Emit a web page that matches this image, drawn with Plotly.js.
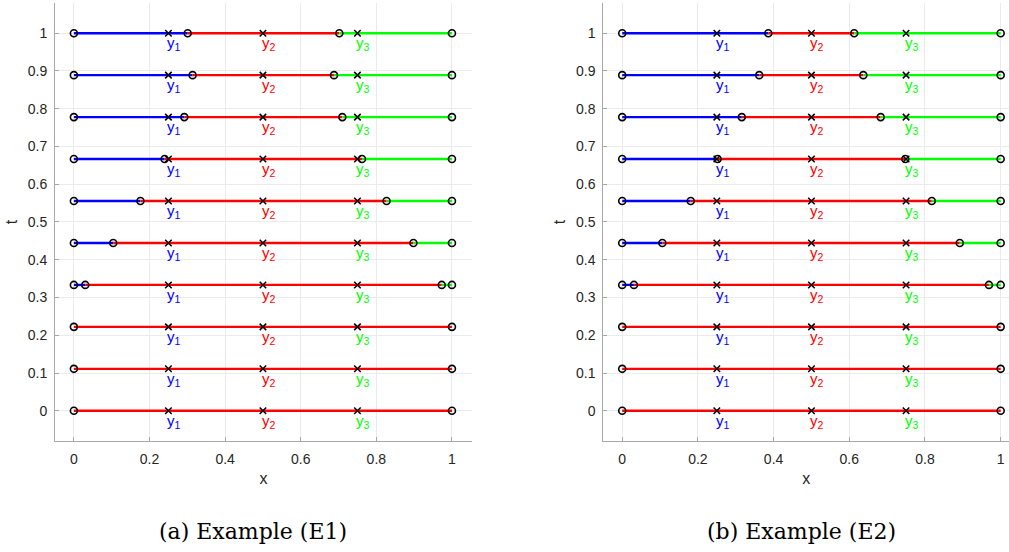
<!DOCTYPE html>
<html>
<head>
<meta charset="utf-8">
<script src="https://cdn.plot.ly/plotly-3.0.1.min.js"></script>
<style>html,body{margin:0;padding:0;background:#fff;overflow:hidden;}#chart{width:1009px;height:552px;}</style>
</head>
<body>
<div id="chart"></div>
<script>
// ---- data ----
const tValues = [0, 1/9, 2/9, 3/9, 4/9, 5/9, 6/9, 7/9, 8/9, 1];
const nodes = [0.25, 0.5, 0.75];
const nodeLabels = ['y<sub>1</sub>', 'y<sub>2</sub>', 'y<sub>3</sub>'];
// breakpoints (blue|red) and (red|green) per row; null = region absent
const e1Left  = [null, null, null, 0.030, 0.104, 0.176, 0.240, 0.292, 0.314, 0.301];
const e1Right = [null, null, null, 0.973, 0.898, 0.827, 0.762, 0.710, 0.688, 0.702];
const e2Left  = [null, null, null, 0.031, 0.106, 0.181, 0.252, 0.316, 0.362, 0.386];
const e2Right = [null, null, null, 0.969, 0.892, 0.818, 0.748, 0.683, 0.637, 0.613];
const xTicks = [0, 0.2, 0.4, 0.6, 0.8, 1];
const yTicks = [0, 0.1, 0.2, 0.3, 0.4, 0.5, 0.6, 0.7, 0.8, 0.9, 1];
const panelTitles = ['(a) Example (E1)', '(b) Example (E2)'];

const BLUE = '#0000ff', RED = '#ff0000', GREEN = '#00ff00';
const colors = [BLUE, RED, GREEN];
const SANS = 'Liberation Sans, Arial, sans-serif';

function panelTraces(leftB, rightB, xa, ya) {
  const bx = [], by = [], rx = [], ry = [], gx = [], gy = [];
  const cx = [], cy = [], kx = [], ky = [];
  tValues.forEach((t, i) => {
    const a = leftB[i], b = rightB[i];
    if (a !== null) { bx.push(0, a, null); by.push(t, t, null); }
    rx.push(a !== null ? a : 0, b !== null ? b : 1, null); ry.push(t, t, null);
    if (b !== null) { gx.push(b, 1, null); gy.push(t, t, null); }
    cx.push(0); cy.push(t);
    if (a !== null) { cx.push(a); cy.push(t); }
    if (b !== null) { cx.push(b); cy.push(t); }
    cx.push(1); cy.push(t);
    nodes.forEach(n => { kx.push(n); ky.push(t); });
  });
  const base = {xaxis: xa, yaxis: ya, hoverinfo: 'skip', showlegend: false, cliponaxis: false};
  const tr = [];
  tr.push(Object.assign({type: 'scatter', mode: 'lines', x: bx, y: by, line: {color: BLUE, width: 2.4}}, base));
  tr.push(Object.assign({type: 'scatter', mode: 'lines', x: rx, y: ry, line: {color: RED, width: 2.4}}, base));
  tr.push(Object.assign({type: 'scatter', mode: 'lines', x: gx, y: gy, line: {color: GREEN, width: 2.4}}, base));
  tr.push(Object.assign({type: 'scatter', mode: 'markers', x: kx, y: ky,
    marker: {symbol: 'x-thin-open', size: 6.5, color: '#000', line: {color: '#000', width: 1.5}}}, base));
  tr.push(Object.assign({type: 'scatter', mode: 'markers', x: cx, y: cy,
    marker: {symbol: 'circle-open', size: 7, color: '#000', line: {color: '#000', width: 1.6}}}, base));
  return tr;
}

function panelLabels(xa, ya) {
  const ann = [];
  tValues.forEach(t => {
    nodes.forEach((n, j) => {
      ann.push({text: nodeLabels[j], x: n, y: t, xref: xa, yref: ya, xanchor: 'left', yanchor: 'top',
        xshift: -3, yshift: 1, showarrow: false, font: {family: SANS, size: 15, color: colors[j]}});
    });
  });
  return ann;
}

const data = [].concat(
  panelTraces(e1Left, e1Right, 'x', 'y'),
  panelTraces(e2Left, e2Right, 'x2', 'y2')
);

const tickFont = {family: SANS, size: 14, color: '#262626'};
function xAxis(domain, range, anchor) {
  return {domain: domain, range: range, anchor: anchor, tickvals: xTicks, ticktext: xTicks.map(String),
    showgrid: true, gridcolor: '#ebebeb', gridwidth: 1, zeroline: false,
    showline: true, linecolor: '#a8a8a8', linewidth: 1, mirror: false,
    ticks: 'inside', ticklen: 4, tickcolor: '#a8a8a8', tickfont: tickFont, ticklabelstandoff: 5,
    title: {text: 'x', font: {family: SANS, size: 16, color: '#262626'}, standoff: 7},
    fixedrange: true};
}
function yAxis(anchor) {
  return {domain: [0.2011, 0.9946], range: [-0.08, 1.08], anchor: anchor, tickvals: yTicks, ticktext: yTicks.map(String),
    showgrid: true, gridcolor: '#ebebeb', gridwidth: 1, zeroline: false,
    showline: true, linecolor: '#a8a8a8', linewidth: 1, mirror: false,
    ticks: 'inside', ticklen: 4, tickcolor: '#a8a8a8', tickfont: tickFont, ticklabelstandoff: 4,
    title: {text: 't', font: {family: SANS, size: 16, color: '#262626'}, standoff: 6},
    fixedrange: true};
}

const layout = {
  width: 1009, height: 552,
  margin: {l: 0, r: 0, t: 0, b: 0},
  paper_bgcolor: '#fff', plot_bgcolor: '#fff',
  xaxis: xAxis([55/1009, 472/1009], [-0.05, 1.053], 'y'),
  yaxis: yAxis('x'),
  xaxis2: xAxis([603.3/1009, 1], [-0.05, 1.022], 'y2'),
  yaxis2: yAxis('x2'),
  annotations: [].concat(panelLabels('x', 'y'), panelLabels('x2', 'y2'), [
    {text: panelTitles[0], xref: 'paper', yref: 'paper', x: 253/1009, y: 1 - 531/552, xanchor: 'center', yanchor: 'middle',
     showarrow: false, font: {family: 'DejaVu Serif, serif', size: 22, color: '#000'}},
    {text: panelTitles[1], xref: 'paper', yref: 'paper', x: 801.5/1009, y: 1 - 531/552, xanchor: 'center', yanchor: 'middle',
     showarrow: false, font: {family: 'DejaVu Serif, serif', size: 22, color: '#000'}}
  ])
};

Plotly.newPlot('chart', data, layout, {staticPlot: true, displayModeBar: false});
</script>
</body>
</html>
